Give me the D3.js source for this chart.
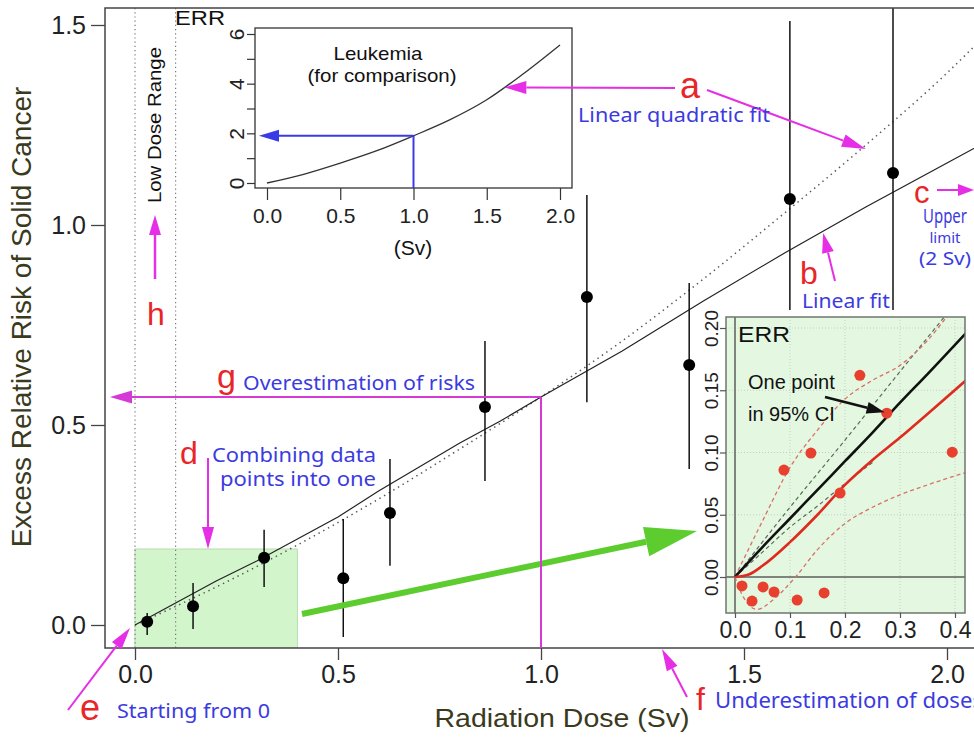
<!DOCTYPE html>
<html>
<head>
<meta charset="utf-8">
<script src="https://cdn.jsdelivr.net/npm/d3@7"></script>
<style>
  body { margin: 0; background: #fff; }
  svg { display: block; }
</style>
</head>
<body>
<svg id="chart" width="974" height="740"></svg>
<script>
// main chart: dose groups (Sv), ERR and 95% CI
const doses  = [0.03, 0.143, 0.318, 0.513, 0.628, 0.862, 1.113, 1.365, 1.613, 1.867]
const err    = [0.008, 0.047, 0.168, 0.117, 0.28, 0.545, 0.82, 0.65, 1.065, 1.13]
const ciLow  = [-0.025, -0.01, 0.095, -0.03, 0.148, 0.36, 0.557, 0.39, 0.6, 0.72]
const ciHigh = [0.03, 0.105, 0.238, 0.265, 0.415, 0.71, 1.075, 0.855, 1.51, 1.7]

const fitDose   = [0, 0.1, 0.2, 0.3, 0.4, 0.5, 0.6, 0.7, 0.8, 0.9, 1.0, 1.2, 1.4, 1.6, 1.8, 2.0, 2.1]
const linearFit = [0, 0.055, 0.11, 0.16, 0.215, 0.27, 0.335, 0.395, 0.455, 0.51, 0.57, 0.685, 0.81, 0.93, 1.045, 1.155, 1.21]
const lqDose = [0, 0.2, 0.4, 0.6, 0.8, 1.0, 1.2, 1.4, 1.6, 1.8, 2.0, 2.1]
const lqFit  = [0, 0.095, 0.2, 0.315, 0.44, 0.57, 0.71, 0.865, 1.03, 1.2, 1.38, 1.48]

const xTicks = [0, 0.5, 1.0, 1.5, 2.0]
const yTicks = [0, 0.5, 1.0, 1.5]

// leukemia inset
const leukDose = [0, 0.25, 0.5, 0.75, 1.0, 1.25, 1.5, 1.75, 2.0]
const leukErr  = [0, 0.35, 0.8, 1.3, 1.9, 2.55, 3.35, 4.4, 5.56]
const leukXTicks = [0, 0.5, 1.0, 1.5, 2.0]
const leukYTicks = [0, 1, 2, 3, 4, 5, 6]

// low dose inset
const lowDose = [0.0127, 0.031, 0.051, 0.071, 0.089, 0.113, 0.138, 0.162, 0.191, 0.227, 0.276, 0.395]
const lowErr  = [-0.0072, -0.0193, -0.008, -0.012, 0.0859, -0.0185, 0.0995, -0.0128, 0.0674, 0.162, 0.1316, 0.1003]
const curveDose = [0, 0.05, 0.1, 0.15, 0.2, 0.25, 0.3, 0.35, 0.42]
const blackFit  = [0, 0.024, 0.047, 0.07, 0.093, 0.116, 0.14, 0.163, 0.196]
const redDose = [0, 0.025, 0.05, 0.1, 0.15, 0.2, 0.25, 0.3, 0.35, 0.42]
const redFit  = [0, 0.002, 0.009, 0.028, 0.05, 0.074, 0.094, 0.112, 0.131, 0.158]
const redUpperDose = [0, 0.05, 0.1, 0.15, 0.2, 0.25, 0.3, 0.35, 0.39]
const redUpper     = [0, 0.045, 0.088, 0.118, 0.143, 0.158, 0.17, 0.19, 0.212]
const redLowerDose = [0, 0.015, 0.04, 0.07, 0.11, 0.15, 0.2, 0.25, 0.3, 0.35, 0.42]
const redLower     = [0, -0.016, -0.026, -0.018, 0, 0.022, 0.043, 0.056, 0.066, 0.074, 0.084]
const grayUpperDose = [0, 0.1, 0.2, 0.3, 0.39]
const grayUpper     = [0, 0.056, 0.11, 0.165, 0.214]
const grayLowerDose = [0, 0.05, 0.1, 0.15, 0.2, 0.25]
const grayLower     = [0, 0.02, 0.04, 0.057, 0.075, 0.092]
const lowXTicks = [0, 0.1, 0.2, 0.3, 0.4]
const lowYTicks = [0, 0.05, 0.1, 0.15, 0.2]

const axisFont = "'Liberation Sans', Arial, Helvetica, sans-serif"
const noteFont = "'Noto Sans', 'Open Sans', sans-serif"
const magenta = '#e62ee6'
const noteBlue = '#3b3be0'
const noteRed = '#e8262a'

const svg = d3.select('#chart')
const pairs = (xs, ys) => xs.map((d, i) => [d, ys[i]])

// ---------- main chart ----------
const x = d3.scaleLinear().domain([0, 2]).range([135, 947])
const y = d3.scaleLinear().domain([0, 1.5]).range([625, 25])
const frame = {left: 105, top: 8, bottom: 648, right: 1000}

svg.append('defs').append('clipPath').attr('id', 'mainClip')
  .append('rect')
  .attr('x', frame.left).attr('y', frame.top)
  .attr('width', frame.right - frame.left).attr('height', frame.bottom - frame.top)

const main = svg.append('g')
const plot = main.append('g').attr('clip-path', 'url(#mainClip)')

// combined data box
plot.append('rect')
  .attr('x', x(0)).attr('y', y(0.19))
  .attr('width', x(0.4) - x(0)).attr('height', frame.bottom - y(0.19))
  .attr('fill', '#d3f5cc').attr('stroke', '#b8dcb0')

// low dose range markers
;[0, 0.1].forEach(v => {
  plot.append('line')
    .attr('x1', x(v)).attr('x2', x(v))
    .attr('y1', frame.top).attr('y2', frame.bottom)
    .attr('stroke', '#777').attr('stroke-width', 1.2)
    .attr('stroke-dasharray', '1.2,3')
})

plot.append('path')
  .datum(pairs(lqDose, lqFit))
  .attr('d', d3.line().x(d => x(d[0])).y(d => y(d[1])).curve(d3.curveMonotoneX))
  .attr('fill', 'none').attr('stroke', '#555').attr('stroke-width', 1.5)
  .attr('stroke-dasharray', '1.4,4')

plot.append('path')
  .datum(pairs(fitDose, linearFit))
  .attr('d', d3.line().x(d => x(d[0])).y(d => y(d[1])))
  .attr('fill', 'none').attr('stroke', '#222').attr('stroke-width', 1.2)

plot.selectAll('line.ci')
  .data(doses)
  .join('line')
  .attr('class', 'ci')
  .attr('x1', d => x(d)).attr('x2', d => x(d))
  .attr('y1', (d, i) => y(ciLow[i])).attr('y2', (d, i) => y(ciHigh[i]))
  .attr('stroke', '#111').attr('stroke-width', 1.5)

plot.selectAll('circle.pt')
  .data(doses)
  .join('circle')
  .attr('class', 'pt')
  .attr('cx', d => x(d)).attr('cy', (d, i) => y(err[i]))
  .attr('r', 6).attr('fill', '#000')

// frame
main.append('path')
  .attr('d', `M${frame.right},${frame.top}H${frame.left}V${frame.bottom}H${frame.right}`)
  .attr('fill', 'none').attr('stroke', '#444').attr('stroke-width', 1.5)

const yAxis = main.append('g')
  .attr('transform', `translate(${frame.left},0)`)
  .call(d3.axisLeft(y).tickValues(yTicks).tickSize(14).tickPadding(5).tickFormat(d3.format('.1f')))
yAxis.select('.domain').remove()

const xAxis = main.append('g')
  .attr('transform', `translate(0,${frame.bottom})`)
  .call(d3.axisBottom(x).tickValues(xTicks).tickSize(12).tickPadding(5).tickFormat(d3.format('.1f')))
xAxis.select('.domain').remove()

;[yAxis, xAxis].forEach(a => {
  a.selectAll('line').attr('stroke', '#444').attr('stroke-width', 1.3)
  a.selectAll('text').attr('font-family', axisFont).attr('font-size', 25).attr('fill', '#222')
})

main.append('text')
  .attr('transform', 'translate(31,317) rotate(-90)')
  .attr('text-anchor', 'middle')
  .attr('font-family', axisFont).attr('font-size', 28).attr('fill', '#3a3a1c')
  .text('Excess Relative Risk of Solid Cancer')

main.append('text')
  .attr('x', 562).attr('y', 727)
  .attr('text-anchor', 'middle')
  .attr('font-family', axisFont).attr('font-size', 26).attr('fill', '#3a3a1c')
  .attr('textLength', 255).attr('lengthAdjust', 'spacingAndGlyphs')
  .text('Radiation Dose (Sv)')

main.append('text')
  .attr('transform', 'translate(161,125) rotate(-90)')
  .attr('text-anchor', 'middle')
  .attr('font-family', axisFont).attr('font-size', 18).attr('fill', '#111')
  .attr('textLength', 156).attr('lengthAdjust', 'spacingAndGlyphs')
  .text('Low Dose Range')

// ---------- helpers ----------
function arrow(g, x1, y1, x2, y2, color, width, headLen, headWid) {
  const a = Math.atan2(y2 - y1, x2 - x1)
  const bx = x2 - headLen * Math.cos(a), by = y2 - headLen * Math.sin(a)
  g.append('line')
    .attr('x1', x1).attr('y1', y1).attr('x2', bx).attr('y2', by)
    .attr('stroke', color).attr('stroke-width', width)
  const nx = -Math.sin(a) * headWid / 2, ny = Math.cos(a) * headWid / 2
  g.append('path')
    .attr('d', `M${x2},${y2}L${bx + nx},${by + ny}L${bx - nx},${by - ny}Z`)
    .attr('fill', color)
}

function label(g, txt, px, py, size, color, opts = {}) {
  const t = g.append('text')
    .attr('x', px).attr('y', py)
    .attr('font-family', opts.font || noteFont)
    .attr('font-size', size).attr('fill', color)
    .attr('text-anchor', opts.anchor || 'start')
    .text(txt)
  if (opts.len) t.attr('textLength', opts.len).attr('lengthAdjust', 'spacingAndGlyphs')
  return t
}

// ---------- leukemia inset ----------
const xl = d3.scaleLinear().domain([0, 2]).range([267, 560])
const yl = d3.scaleLinear().domain([0, 6]).range([183, 34])
const lf = {left: 255, right: 572, top: 28, bottom: 188}
const leuk = svg.append('g')

leuk.append('rect')
  .attr('x', lf.left).attr('y', lf.top)
  .attr('width', lf.right - lf.left).attr('height', lf.bottom - lf.top)
  .attr('fill', '#fff').attr('stroke', '#333').attr('stroke-width', 1.3)

leuk.append('path')
  .datum(pairs(leukDose, leukErr))
  .attr('d', d3.line().x(d => xl(d[0])).y(d => yl(d[1])).curve(d3.curveMonotoneX))
  .attr('fill', 'none').attr('stroke', '#333').attr('stroke-width', 1.3)

const leukY = leuk.append('g')
  .attr('transform', `translate(${lf.left},0)`)
  .call(d3.axisLeft(yl).tickValues(leukYTicks).tickSize(8).tickFormat(d => d % 2 === 0 ? d : ''))
leukY.select('.domain').remove()
leukY.selectAll('text')
  .attr('x', null).attr('dy', null)
  .attr('transform', 'translate(-11,0) rotate(-90)')
  .attr('text-anchor', 'middle')

const leukX = leuk.append('g')
  .attr('transform', `translate(0,${lf.bottom})`)
  .call(d3.axisBottom(xl).tickValues(leukXTicks).tickSize(12).tickPadding(8).tickFormat(d3.format('.1f')))
leukX.select('.domain').remove()

;[leukY, leukX].forEach(a => {
  a.selectAll('line').attr('stroke', '#333').attr('stroke-width', 1.2)
  a.selectAll('text').attr('font-family', axisFont).attr('font-size', 21).attr('fill', '#222')
})

label(leuk, 'ERR', 175, 25, 20, '#111', {font: axisFont, len: 50})
label(leuk, 'Leukemia', 378, 60, 19, '#111', {font: axisFont, anchor: 'middle', len: 89})
label(leuk, '(for comparison)', 382, 82, 19, '#111', {font: axisFont, anchor: 'middle', len: 149})
label(leuk, '(Sv)', 413, 255, 21, '#111', {font: axisFont, anchor: 'middle'})

// blue reading lines at 1 Sv
leuk.append('line')
  .attr('x1', xl(1)).attr('x2', xl(1))
  .attr('y1', lf.bottom).attr('y2', yl(1.9))
  .attr('stroke', '#3a3ae6').attr('stroke-width', 2)
arrow(leuk, xl(1), yl(1.9), lf.left + 4, yl(1.9), '#3a3ae6', 2, 20, 12)

// ---------- low dose inset ----------
const xr = d3.scaleLinear().domain([0, 0.4]).range([735, 955])
const yr = d3.scaleLinear().domain([0, 0.2]).range([577, 328])
const rf = {left: 726, right: 965, top: 317, bottom: 613}
const low = svg.append('g')

low.append('rect')
  .attr('x', 700).attr('y', 310).attr('width', 270).attr('height', 336)
  .attr('fill', '#fff')

low.append('rect')
  .attr('x', rf.left).attr('y', rf.top)
  .attr('width', rf.right - rf.left).attr('height', rf.bottom - rf.top)
  .attr('fill', '#e4f8e1')

low.selectAll('line.gx')
  .data(lowXTicks.slice(1))
  .join('line')
  .attr('x1', d => xr(d)).attr('x2', d => xr(d))
  .attr('y1', rf.top).attr('y2', rf.bottom)
  .attr('stroke', '#c4cfc2').attr('stroke-width', 1).attr('stroke-dasharray', '1,2')
low.selectAll('line.gy')
  .data(lowYTicks.slice(1))
  .join('line')
  .attr('x1', rf.left).attr('x2', rf.right)
  .attr('y1', d => yr(d)).attr('y2', d => yr(d))
  .attr('stroke', '#c4cfc2').attr('stroke-width', 1).attr('stroke-dasharray', '1,2')

low.append('line')
  .attr('x1', rf.left).attr('x2', rf.right).attr('y1', yr(0)).attr('y2', yr(0))
  .attr('stroke', '#7d857c').attr('stroke-width', 2)
low.append('line')
  .attr('x1', xr(0)).attr('x2', xr(0)).attr('y1', rf.top).attr('y2', rf.bottom)
  .attr('stroke', '#7d857c').attr('stroke-width', 2)

low.append('clipPath').attr('id', 'lowClip')
  .append('rect')
  .attr('x', rf.left).attr('y', rf.top)
  .attr('width', rf.right - rf.left).attr('height', rf.bottom - rf.top)
const lowPlot = low.append('g').attr('clip-path', 'url(#lowClip)')

const lowLine = d3.line().x(d => xr(d[0])).y(d => yr(d[1])).curve(d3.curveMonotoneX)
const curves = [
  [grayUpperDose, grayUpper, '#5b6a5a', 1.2, '4,3'],
  [grayLowerDose, grayLower, '#5b6a5a', 1.2, '4,3'],
  [redUpperDose, redUpper, '#d8706a', 1.3, '4,3'],
  [redLowerDose, redLower, '#d8706a', 1.3, '4,3'],
  [curveDose, blackFit, '#111', 2.6, null],
  [redDose, redFit, '#e02a20', 2.6, null]
]
curves.forEach(([xs, ys, color, w, dash]) => {
  lowPlot.append('path')
    .datum(pairs(xs, ys))
    .attr('d', lowLine)
    .attr('fill', 'none').attr('stroke', color).attr('stroke-width', w)
    .attr('stroke-dasharray', dash)
})

lowPlot.selectAll('circle.lp')
  .data(lowDose)
  .join('circle')
  .attr('class', 'lp')
  .attr('cx', d => xr(d)).attr('cy', (d, i) => yr(lowErr[i]))
  .attr('r', 5.5).attr('fill', '#e8402e')

low.append('rect')
  .attr('x', rf.left).attr('y', rf.top)
  .attr('width', rf.right - rf.left).attr('height', rf.bottom - rf.top)
  .attr('fill', 'none').attr('stroke', '#6f776e').attr('stroke-width', 1.5)

const lowY = low.append('g')
  .attr('transform', `translate(${rf.left},0)`)
  .call(d3.axisLeft(yr).tickValues(lowYTicks).tickSize(6).tickFormat(d3.format('.2f')))
lowY.select('.domain').remove()
lowY.selectAll('text')
  .attr('x', null).attr('dy', null)
  .attr('transform', 'translate(-8,0) rotate(-90)')
  .attr('text-anchor', 'middle')

const lowX = low.append('g')
  .attr('transform', `translate(0,${rf.bottom})`)
  .call(d3.axisBottom(xr).tickValues(lowXTicks).tickSize(5).tickPadding(4).tickFormat(d3.format('.1f')))
lowX.select('.domain').remove()

lowY.selectAll('text').attr('font-size', 19)
lowX.selectAll('text').attr('font-size', 23)
;[lowY, lowX].forEach(a => {
  a.selectAll('line').attr('stroke', '#555').attr('stroke-width', 1.2)
  a.selectAll('text').attr('font-family', axisFont).attr('fill', '#222')
})

label(low, 'ERR', 738, 342, 22, '#111', {font: axisFont, len: 52})
label(low, 'One point', 748, 389, 20, '#111', {font: axisFont})
label(low, 'in 95% CI', 748, 421, 20, '#111', {font: axisFont})
arrow(low, 825, 397, xr(0.272), yr(0.1316) - 1, '#111', 2.5, 18, 12)

// ---------- annotations ----------
const notes = svg.append('g')

// green zoom arrow
arrow(notes, 302, 614, 697, 531, '#5ccc2e', 6, 52, 30)

// a: linear quadratic fit
arrow(notes, 675, 88, xl(1.62), yl(3.85), magenta, 2, 22, 13)
arrow(notes, 707, 90, x(1.8), y(1.19), magenta, 2, 24, 13)
label(notes, 'a', 680, 98, 36, noteRed, {font: axisFont})
label(notes, 'Linear quadratic fit', 578, 122, 20, noteBlue, {len: 192})

// b: linear fit
arrow(notes, 835, 281, x(1.695), y(0.98), magenta, 2, 20, 12)
label(notes, 'b', 800, 284, 32, noteRed, {font: axisFont})
label(notes, 'Linear fit', 802, 308, 20, noteBlue, {len: 88})

// c: upper limit
arrow(notes, 937, 190, 974, 190, magenta, 2, 16, 12)
label(notes, 'c', 914, 203, 31, noteRed, {font: axisFont})
label(notes, 'Upper', 945, 223, 19, noteBlue, {anchor: 'middle', len: 44})
label(notes, 'limit', 945, 243, 15, noteBlue, {anchor: 'middle'})
label(notes, '(2 Sv)', 945, 265, 18, noteBlue, {anchor: 'middle', len: 52})

// d: combining data points
arrow(notes, 208, 458, 208, y(0.19), magenta, 2, 22, 12)
label(notes, 'd', 180, 464, 32, noteRed, {font: axisFont})
label(notes, 'Combining data', 212, 462, 19, noteBlue, {len: 164})
label(notes, 'points into one', 220, 486, 19, noteBlue, {len: 156})

// e: starting from 0
arrow(notes, 68, 710, x(0) - 5, y(0) + 3, magenta, 2, 22, 12)
label(notes, 'e', 80, 720, 36, noteRed, {font: axisFont})
label(notes, 'Starting from 0', 117, 718, 20, noteBlue, {len: 153})

// f: underestimation of doses
arrow(notes, 687, 697, 662, frame.bottom + 1, magenta, 2, 22, 12)
label(notes, 'f', 696, 710, 32, noteRed, {font: axisFont})
label(notes, 'Underestimation of doses', 715, 708, 21, noteBlue, {len: 268})

// g: overestimation of risks
notes.append('line')
  .attr('x1', x(1)).attr('x2', x(1))
  .attr('y1', y(0.57)).attr('y2', frame.bottom)
  .attr('stroke', '#d63ad6').attr('stroke-width', 2)
arrow(notes, x(1), y(0.57), 110, y(0.57), '#d63ad6', 2, 22, 13)
label(notes, 'g', 217, 388, 34, noteRed, {font: axisFont})
label(notes, 'Overestimation of risks', 243, 390, 20, noteBlue, {len: 232})

// h: low dose range
arrow(notes, 155, 279, 155, 215, magenta, 2.5, 20, 12)
label(notes, 'h', 147, 325, 32, noteRed, {font: axisFont})
</script>
</body>
</html>
